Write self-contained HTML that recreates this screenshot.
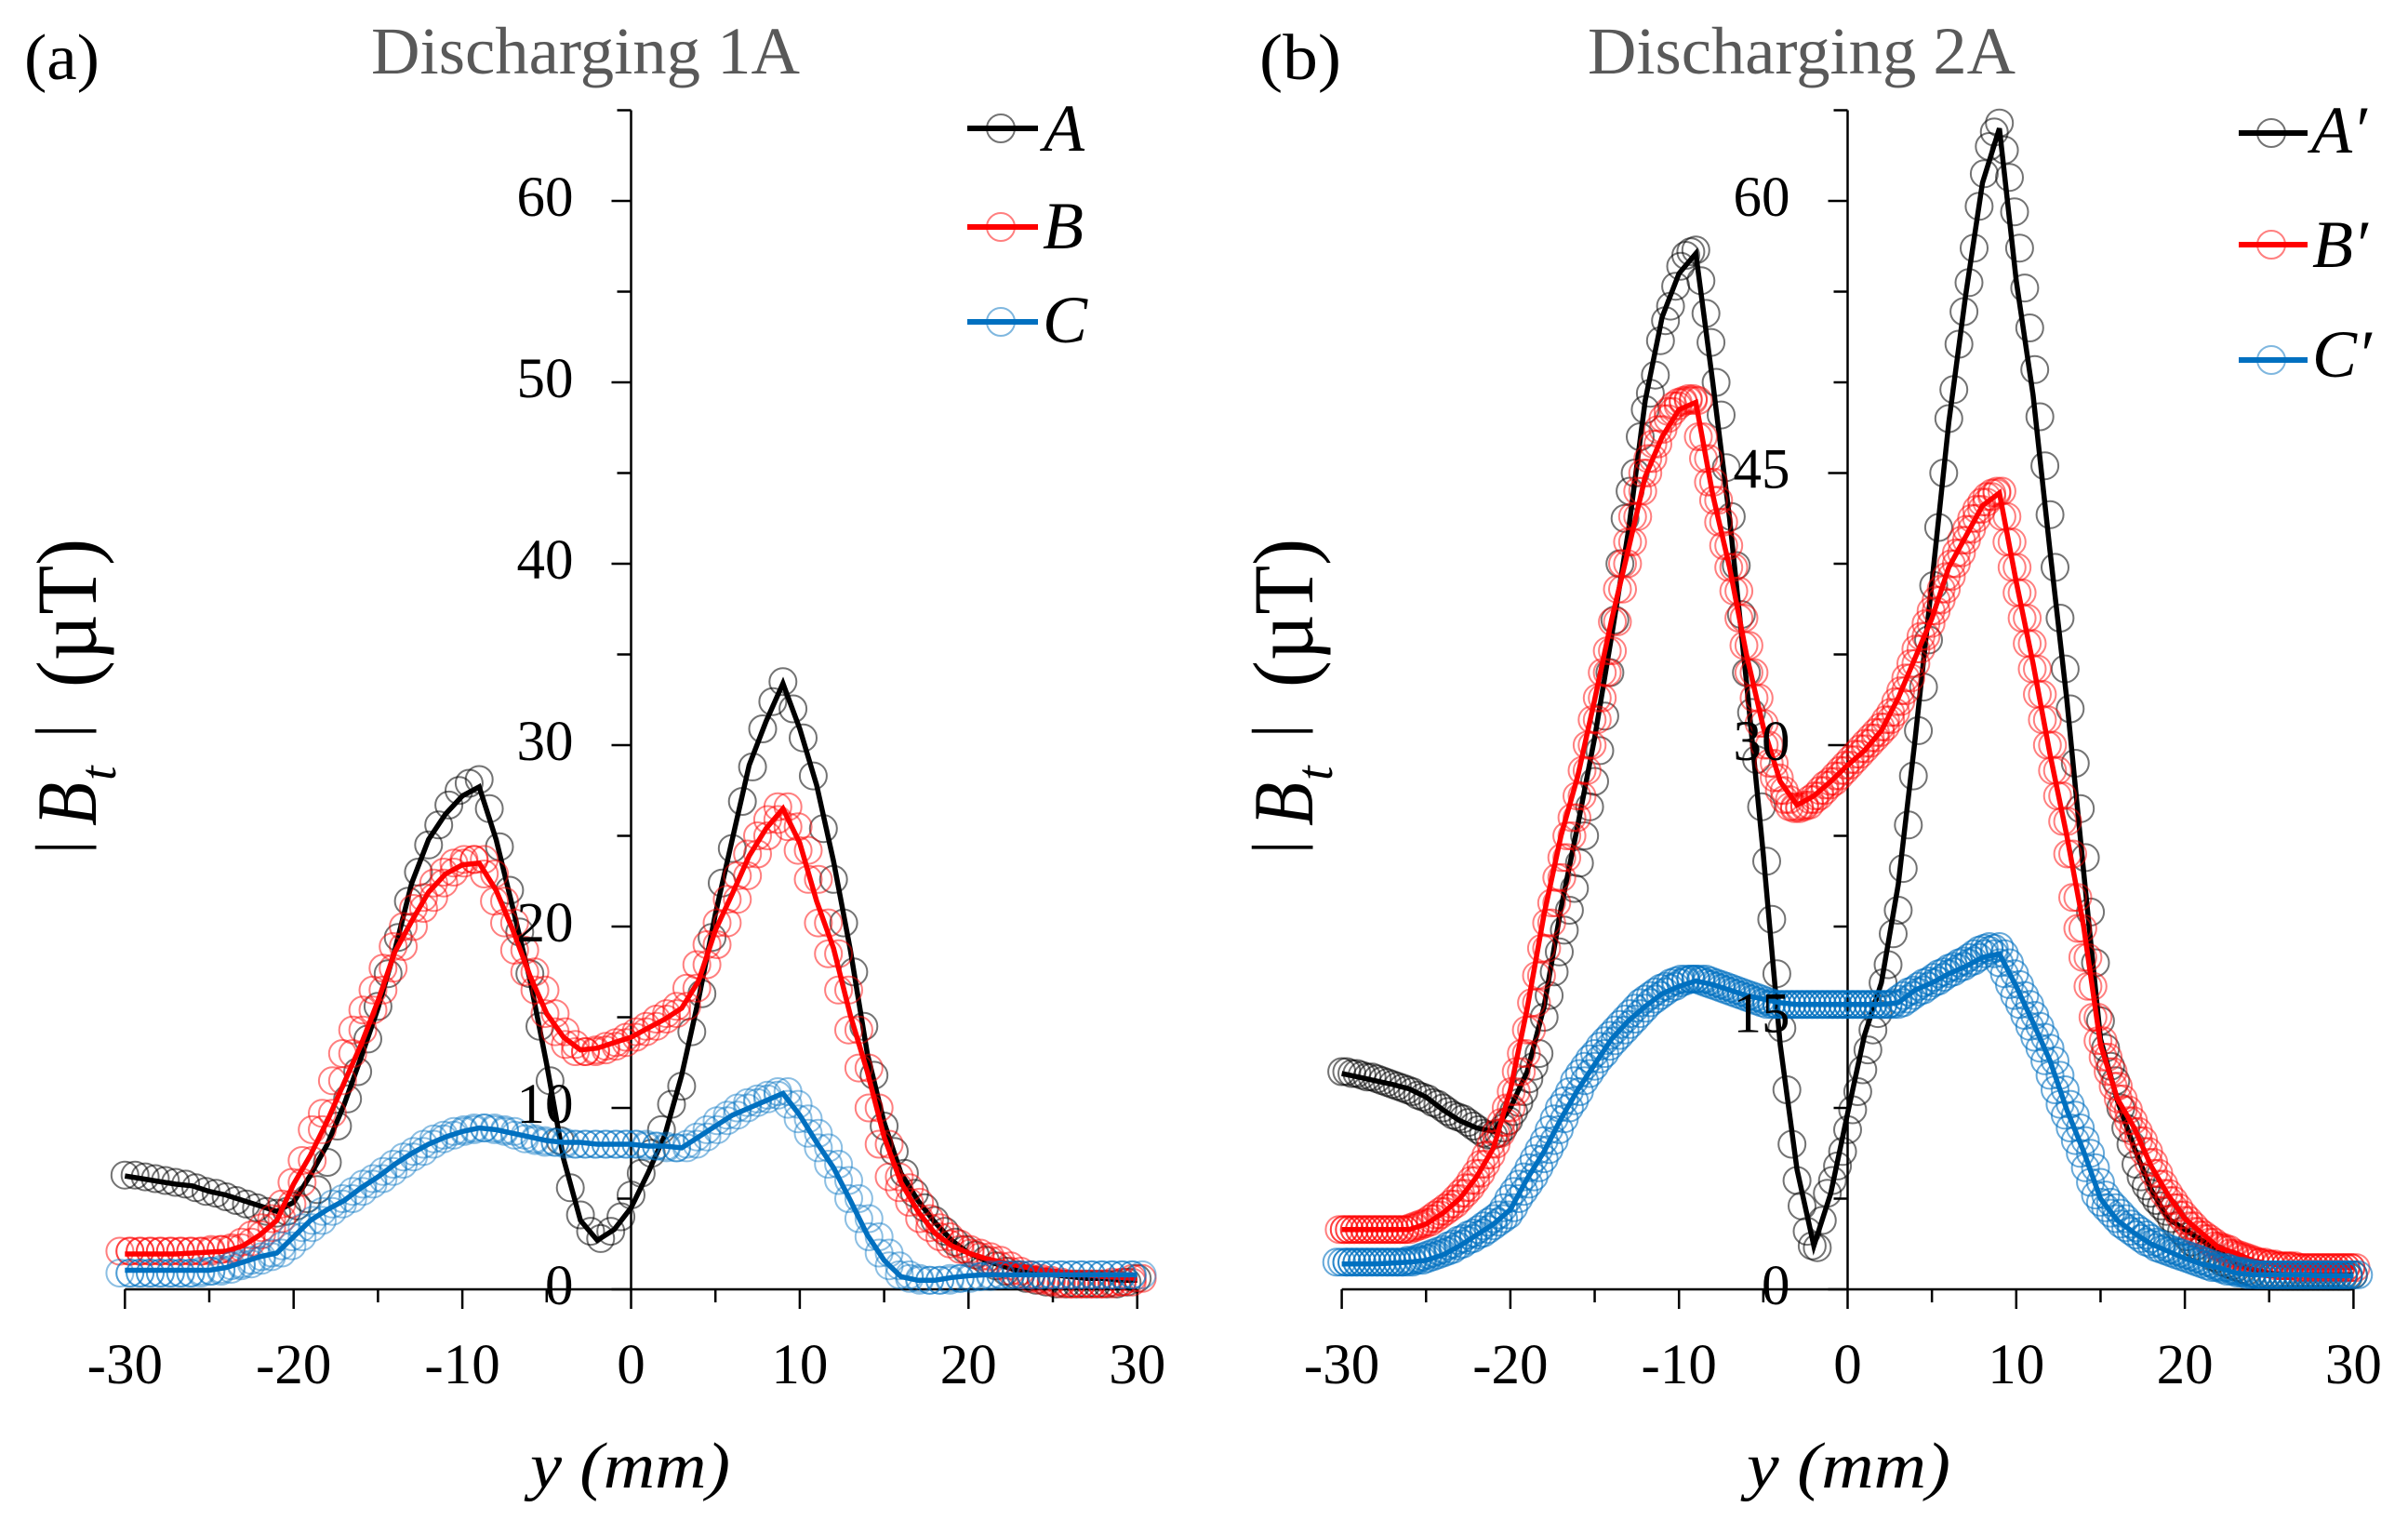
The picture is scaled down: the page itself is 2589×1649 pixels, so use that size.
<!DOCTYPE html>
<html lang="en">
<head>
<meta charset="utf-8">
<title>Discharging magnetic field profiles</title>
<style>
html,body{margin:0;padding:0;background:#fff;}
svg{display:block;}
text{font-family:"Liberation Serif","DejaVu Serif",serif;fill:#000;}
</style>
</head>
<body>
<svg id="fig" xmlns="http://www.w3.org/2000/svg" width="2589" height="1649" viewBox="0 0 2589 1649">
  <rect width="2589" height="1649" fill="#fff"/>
  <g id="panelA"></g>
  <g id="panelB"></g>

  <text x="26" y="85" font-size="70" textLength="81" lengthAdjust="spacingAndGlyphs">(a)</text>
  <text x="1354" y="85" font-size="70" textLength="88" lengthAdjust="spacingAndGlyphs">(b)</text>
  <text x="399" y="79" font-size="72" style="fill:#595959" textLength="461" lengthAdjust="spacingAndGlyphs">Discharging 1A</text>
  <text x="1707" y="79" font-size="72" style="fill:#595959" textLength="460" lengthAdjust="spacingAndGlyphs">Discharging 2A</text>

  <g transform="translate(103,912) rotate(-90)">
    <text x="-6" y="-15" font-size="72">|</text>
    <text x="24" y="0" font-size="92" font-style="italic" textLength="47" lengthAdjust="spacingAndGlyphs">B</text>
    <text x="73" y="21" font-size="56" font-style="italic">t</text>
    <text x="119" y="-15" font-size="72">|</text>
    <text x="173" y="0" font-size="92" textLength="160" lengthAdjust="spacingAndGlyphs">(µT)</text>
  </g>
  <g transform="translate(1411,912) rotate(-90)">
    <text x="-6" y="-15" font-size="72">|</text>
    <text x="24" y="0" font-size="92" font-style="italic" textLength="47" lengthAdjust="spacingAndGlyphs">B</text>
    <text x="73" y="21" font-size="56" font-style="italic">t</text>
    <text x="119" y="-15" font-size="72">|</text>
    <text x="173" y="0" font-size="92" textLength="160" lengthAdjust="spacingAndGlyphs">(µT)</text>
  </g>

  <text x="570" y="1599" font-size="70" font-style="italic" textLength="215" lengthAdjust="spacingAndGlyphs">y (mm)</text>
  <text x="1878" y="1599" font-size="70" font-style="italic" textLength="219" lengthAdjust="spacingAndGlyphs">y (mm)</text>

  <g>
    <g>
      <circle cx="1076" cy="138" r="15" fill="none" stroke="#000" stroke-opacity=".55" stroke-width="2"/>
      <line x1="1040" x2="1116" y1="138" y2="138" stroke="#000" stroke-width="6"/>
      <text x="1122" y="162" font-size="72" font-style="italic">A</text>
    </g>
    <g>
      <circle cx="1076" cy="244" r="15" fill="none" stroke="#ff0000" stroke-opacity=".5" stroke-width="2"/>
      <line x1="1040" x2="1116" y1="244" y2="244" stroke="#ff0000" stroke-width="6"/>
      <text x="1121" y="267" font-size="72" font-style="italic">B</text>
    </g>
    <g>
      <circle cx="1076" cy="346" r="15" fill="none" stroke="#0070c0" stroke-opacity=".5" stroke-width="2"/>
      <line x1="1040" x2="1116" y1="346" y2="346" stroke="#0070c0" stroke-width="6"/>
      <text x="1121" y="368" font-size="72" font-style="italic">C</text>
    </g>
  </g>
  <g>
    <g>
      <circle cx="2442" cy="143" r="15" fill="none" stroke="#000" stroke-opacity=".55" stroke-width="2"/>
      <line x1="2407" x2="2481" y1="143" y2="143" stroke="#000" stroke-width="6"/>
      <text x="2485" y="164" font-size="72" font-style="italic">A′</text>
    </g>
    <g>
      <circle cx="2442" cy="263" r="15" fill="none" stroke="#ff0000" stroke-opacity=".5" stroke-width="2"/>
      <line x1="2407" x2="2481" y1="263" y2="263" stroke="#ff0000" stroke-width="6"/>
      <text x="2486" y="287" font-size="72" font-style="italic">B′</text>
    </g>
    <g>
      <circle cx="2442" cy="387" r="15" fill="none" stroke="#0070c0" stroke-opacity=".5" stroke-width="2"/>
      <line x1="2407" x2="2481" y1="387" y2="387" stroke="#0070c0" stroke-width="6"/>
      <text x="2486" y="405" font-size="72" font-style="italic">C′</text>
    </g>
  </g>
</svg>
<script>
// Axis tick values
const xTickLabels = ["-30","-20","-10","0","10","20","30"];
const xTickValues = [-30,-20,-10,0,10,20,30];
const xMinorValues = [-25,-15,-5,5,15,25];
const yTickLabelsA = ["0","10","20","30","40","50","60"];
const yTickValuesA = [0,10,20,30,40,50,60];
const yMinorValuesA = [5,15,25,35,45,55,65];
const yTickLabelsB = ["0","15","30","45","60"];
const yTickValuesB = [0,15,30,45,60];
const yMinorValuesB = [5,10,20,25,35,40,50,55,65];

// Panel (a): markers sampled every 0.6 mm from -30 mm
const markerStartMm = -30;
const markerStepA = 0.6;
const markersA = [
6.3,6.3,6.2,6.1,6.0,5.9,5.8,5.6,5.4,5.3,
5.1,4.9,4.7,4.5,4.3,4.2,4.3,4.6,5.0,5.5,
7,9,10.5,12,13.8,15.6,17.4,19.4,21.4,23,
24.5,25.6,26.7,27.5,27.9,28.1,26.5,24.4,22,19.7,
17.4,14.5,11.5,8.2,5.6,4.1,3.2,2.8,3.2,4,
5.2,6.4,7.5,8.8,10.2,11.2,14.2,16.3,19.4,22.4,
24.3,26.9,28.8,30.9,32.4,33.5,32,30.4,28.3,25.4,
22.6,20.2,17.5,14.5,11.8,9,7.6,6.4,5.3,4.5,
3.8,3.2,2.6,2.2,1.9,1.6,1.3,1,.8,.6,
.5,.4,.3,.3,.3,.3,.3,.3,.3,.4,
.6];
const markersB = [
2.1,2.1,2.1,2.1,2.1,2.1,2.1,2.1,2.1,2.2,
2.2,2.3,2.6,3,3.4,3.9,4.7,5.9,7.1,8.8,
9.7,11.5,13,14.3,15.4,16.5,17.7,18.9,20,21,
21.6,22.4,23,23.5,23.7,23.7,22.9,21.4,20.2,18.7,
17.5,16.5,15.2,14.2,13.5,13.1,13.1,13.2,13.4,13.6,
13.9,14.2,14.5,14.9,15.2,15.6,16.6,17.9,19,20.2,
21.5,22.8,24,25,25.9,26.6,25.5,24.2,22.6,20.2,
18.5,16.5,14.3,12.2,10,8,6.2,5.6,4.8,3.9,
3.4,2.9,2.5,2.2,2,1.8,1.6,1.3,1,.8,
.6,.5,.4,.3,.3,.3,.3,.3,.4,.4,
.6];
const markersC = [
.9,.9,.9,.9,.9,.9,.9,.9,1,1,
1.1,1.3,1.4,1.6,1.8,2,2.4,2.9,3.4,3.8,
4.3,4.7,5,5.4,5.8,6.1,6.5,6.9,7.3,7.6,
8,8.3,8.5,8.7,8.8,8.9,8.9,8.8,8.7,8.5,
8.3,8.2,8.1,8.1,8,8,8,8,8,8,
8,8,7.9,7.9,7.8,7.8,8,8.4,8.8,9.3,
9.6,10,10.3,10.5,10.7,10.9,10.2,9.4,8.6,7.8,
6.9,6,5,3.9,2.9,2,1.3,.8,.6,.5,
.5,.5,.6,.6,.7,.7,.8,.8,.8,.8,
.8,.8,.8,.8,.8,.8,.8,.8,.8,.8,
.8];

// Panel (a): solid lines sampled every 1 mm from -30 mm
const lineStartMm = -30;
const lineStepMm = 1;
const lineA = [
6.25,6.1,5.95,5.8,5.7,5.4,5.2,4.9,4.6,4.3,
4.8,6.3,8,10.2,12.8,15.5,18.7,22.4,24.8,26.2,
27.2,27.7,24.8,21,17.1,12.4,7.2,3.8,2.7,3.3,
4.5,6.4,8.5,11.8,16,20.7,24.8,28.9,31.3,33.4,
30.9,27.8,23.6,18.7,13,9.2,6.4,4.9,3.7,2.7,
2,1.6,1.3,1,.9,.8,.7,.6,.6,.5,.5];
const lineB = [
1.95,1.95,1.95,1.95,2,2.05,2.1,2.4,3,3.8,
5.8,7.4,9.3,11.4,13.5,15.9,18.6,20.3,21.9,22.9,
23.4,23.5,22,19.8,17.3,15.2,13.9,13.2,13.3,13.6,
13.9,14.4,14.9,15.5,17,19.8,21.8,23.9,25.4,26.5,
24.6,21.4,18.8,15.1,12,8.4,5.9,4.3,3.1,2.4,
2,1.7,1.5,1.3,1.1,1,.9,.8,.7,.65,.6];
const lineC = [
1.05,1.05,1.05,1.05,1.05,1.05,1.2,1.5,1.8,2,
2.9,3.8,4.4,4.9,5.6,6.2,6.9,7.5,8,8.4,
8.7,8.9,8.8,8.6,8.4,8.2,8.1,8.1,8,8,
8,7.9,7.9,7.8,8.4,9,9.6,10,10.4,10.8,
9.6,8.1,6.7,4.9,3,1.6,.7,.5,.5,.65,
.75,.8,.8,.8,.8,.8,.8,.8,.8,.8,.8];

// Panel (b): markers sampled every 0.3 mm from -30 mm
const markerStepB = 0.3;
const markersAPrime = [
12,12,11.9,11.9,11.8,11.7,11.7,11.6,11.5,11.4,
11.3,11.2,11.1,11,10.9,10.7,10.6,10.5,10.3,10.2,
10,9.8,9.6,9.5,9.4,9.2,9,8.8,8.6,8.5,
8.5,8.6,8.9,9.3,9.8,10.3,10.9,11.6,12.3,13,
15,16.2,17.5,18.6,19.8,20.9,22.1,23.5,25,26.6,
28,29.7,31.6,34,36.9,40,42.5,44,45,47,
48.5,49.4,50.4,52.3,53.4,54.2,55.3,56.4,57,57.2,
57.3,55.6,53.8,52.2,50,48.2,45.3,42.6,39.9,37.2,
34,31.8,29.2,26.6,23.6,20.4,17.4,14.4,11,8,
6,4.6,3.2,2.4,2.3,3.8,5.3,6,6.8,7.6,
8.8,9.9,10.9,12.1,13.2,14.3,15.2,16.9,17.9,19.6,
20.9,23.2,25.6,28.3,30.8,33.2,35.8,38.8,42,45,
48,49.6,52.1,53.9,55.5,57.4,59.7,61.5,63,63.8,
64.3,62.8,61.3,59.4,57.4,55.2,53,50.7,48.1,45.4,
42.7,39.8,37,34.2,32,29,26.5,23.8,20.8,18,
14.8,13.3,12.3,11.5,10,8.9,8,6.9,6.2,5.7,
5.3,4.9,4.6,4.3,3.9,3.5,3.2,2.9,2.6,2.4,
2.2,2,1.8,1.7,1.5,1.4,1.3,1.2,1.1,1,
.9,.8,.8,.8,.7,.7,.7,.7,.7,.7,
.7,.7,.7,.7,.7,.7,.7,.7,.7,.7,
.8];
const markersBPrime = [
3.3,3.3,3.3,3.3,3.3,3.3,3.3,3.3,3.3,3.3,
3.3,3.3,3.3,3.3,3.4,3.5,3.6,3.7,3.9,4.1,
4.3,4.5,4.7,5,5.3,5.6,6,6.4,6.9,7.4,
8,8.6,9.2,10,10.9,12,13,14.3,15.8,17.3,
18.8,20.2,21.3,22.7,23.8,25,26,27.2,28.6,30,
31.4,32.6,34,35.2,36.8,38.6,40,41.2,42.6,44,
45,45.8,46.6,47.4,48,48.4,48.7,48.9,49,49.1,
49,47,45.8,44.5,43.5,42.3,41,39.8,38.5,37,
35.5,34,32.6,31.2,30,29,28.2,27.5,27,26.6,
26.5,26.6,26.7,27,27.2,27.5,27.8,28,28.3,28.6,
28.9,29.2,29.5,29.8,30.1,30.4,30.7,31,31.4,31.8,
32.4,33,33.7,34.5,35.3,36,36.7,37.4,38,38.6,
39.3,40,40.6,41.3,41.9,42.5,43,43.4,43.7,43.9,
44,42.6,41.2,39.8,38.4,37,35.6,34.2,32.8,31.4,
30,28.6,27.2,25.8,24,21.6,19.9,18.3,16.7,15,
13.7,12.8,12,11.2,10.5,9.9,9.3,8.7,8.2,7.6,
7,6.4,5.8,5.3,4.9,4.5,4.1,3.8,3.5,3.2,
3,2.8,2.6,2.4,2.3,2.2,2,1.9,1.8,1.7,
1.6,1.5,1.5,1.4,1.4,1.3,1.3,1.3,1.3,1.2,
1.2,1.2,1.2,1.2,1.2,1.2,1.2,1.2,1.2,1.2,
1.2];
const markersCPrime = [
1.5,1.5,1.5,1.5,1.5,1.5,1.5,1.5,1.5,1.5,
1.5,1.5,1.5,1.5,1.6,1.6,1.7,1.8,1.9,2,
2.1,2.2,2.4,2.5,2.7,2.8,3,3.1,3.3,3.5,
3.7,3.9,4.1,4.5,5,5.4,5.8,6.2,6.7,7.2,
7.7,8.2,8.8,9.4,10,10.4,10.9,11.5,11.9,12.3,
12.7,13,13.4,13.7,14,14.3,14.6,14.9,15.2,15.5,
15.8,16,16.2,16.4,16.6,16.7,16.9,17,17.1,17.1,
17.1,17.1,17,16.9,16.8,16.7,16.6,16.5,16.4,16.3,
16.2,16.1,16,15.9,15.8,15.7,15.7,15.7,15.7,15.7,
15.7,15.7,15.7,15.7,15.7,15.7,15.7,15.7,15.7,15.7,
15.7,15.7,15.7,15.7,15.7,15.7,15.7,15.7,15.7,15.7,
15.8,16,16.2,16.4,16.5,16.7,16.9,17,17.2,17.4,
17.5,17.7,17.8,18,18.1,18.3,18.5,18.7,18.8,18.9,
18.5,18,17.4,16.8,16.2,15.7,15.1,14.5,13.9,13.3,
12.6,11.8,11,10.2,9.6,8.9,8.2,7.5,6.7,5.9,
5.2,4.8,4.5,4.2,3.9,3.6,3.4,3.2,3,2.8,
2.6,2.5,2.3,2.2,2.1,2,1.9,1.8,1.7,1.6,
1.5,1.4,1.3,1.2,1.2,1.1,1,1,.9,.9,
.8,.8,.8,.8,.8,.8,.8,.8,.8,.8,
.8,.8,.8,.8,.8,.8,.8,.8,.8,.8,
.8];

// Panel (b): solid lines sampled every 1 mm from -30 mm
const lineAPrime = [
11.9,11.7,11.5,11.3,11.05,10.6,9.9,9.3,8.9,8.7,
10,12,15.6,21,25.6,30.4,36,41.8,49,53.6,
56,57.1,50,42.5,33.5,24,13.5,6.6,2.4,5.3,
9.7,14,16.9,22.3,30.3,39,47.8,54.8,61,64,
55.6,49.3,40.7,32.5,23,13.8,10.4,7.8,5.5,3.9,
3.3,2.7,2.1,1.4,1.1,.9,.8,.8,.8,.8,.8];
const lineBPrime = [
3.3,3.3,3.3,3.3,3.3,3.6,4.2,5,6.2,7.8,
11,15.5,20.7,25,28.3,32.5,36.9,40.8,44.8,47,
48.5,48.9,43.8,39.8,35,31,28,26.7,27.2,28,
28.9,29.7,30.8,32.6,34.8,37,39.8,41.5,43.2,43.9,
39,34.5,29.5,25,20,13.5,10.5,8.9,6.8,5.2,
3.9,3.1,2.3,2,1.6,1.4,1.3,1.2,1.2,1.2,1.2];
const lineCPrime = [
1.4,1.4,1.4,1.45,1.5,1.6,1.9,2.4,3,3.6,
4.4,6.1,7.6,9.4,11,12.4,13.8,14.8,15.6,16.3,
16.7,17,16.8,16.5,16.2,16,15.8,15.7,15.7,15.7,
15.7,15.7,15.7,15.8,16.5,16.9,17.4,17.8,18.3,18.5,
16.7,14.7,12.6,9.9,7.6,5,3.8,3.1,2.5,2.1,
1.7,1.4,1.2,.9,.8,.8,.8,.8,.75,.75,.75];

const SVGNS = "http://www.w3.org/2000/svg";
const BLACK = "#000000", RED = "#ff0000", BLUE = "#0070c0";

function mk(tag, attrs, parent) {
  const el = document.createElementNS(SVGNS, tag);
  for (const k in attrs) el.setAttribute(k, attrs[k]);
  parent.appendChild(el);
  return el;
}

function makeScales(x0, pxPerMm) {
  return {
    x: function (mm) { return x0 + mm * pxPerMm; },
    y: function (v) { return 1386 - v * 19.5; }
  };
}

function drawAxes(root, s, yMajor, yMinor) {
  const axes = mk("g", {stroke: "#000", "stroke-width": 2.5, fill: "none"}, root);
  
  
  const xAxis = mk("line", {x1: s.x(-30), x2: s.x(30), y1: s.y(0), y2: s.y(0)}, axes);
  
  
  const yAxis = mk("line", {x1: s.x(0), x2: s.x(0), y1: s.y(0), y2: s.y(65)}, axes);
  
  
  xTickValues.forEach(function (v) {
    const t = mk("line", {x1: s.x(v), x2: s.x(v), y1: s.y(0), y2: s.y(0) + 21}, axes);
    
    
  });
  xMinorValues.forEach(function (v) {
    const t = mk("line", {x1: s.x(v), x2: s.x(v), y1: s.y(0), y2: s.y(0) + 14}, axes);
    
    
  });
  yMajor.forEach(function (v) {
    const t = mk("line", {x1: s.x(0) - 21, x2: s.x(0), y1: s.y(v), y2: s.y(v)}, axes);
    
    
  });
  yMinor.forEach(function (v) {
    const t = mk("line", {x1: s.x(0) - 15, x2: s.x(0), y1: s.y(v), y2: s.y(v)}, axes);
    
    
  });
}

// chainOffsets: horizontal offsets (mm) of the marker chains drawn for a series
function drawSeries(root, s, seriesName, markers, markerStep, line, color, opacity, chainOffsets) {
  const g = mk("g", {}, root);
  
  
  chainOffsets.forEach(function (offset) {
    markers.forEach(function (v, i) {
      const c = mk("circle", {
        cx: s.x(markerStartMm + i * markerStep + offset).toFixed(1),
        cy: s.y(v).toFixed(1),
        r: 14.5,
        fill: "none",
        stroke: color,
        "stroke-opacity": opacity,
        "stroke-width": 2
      }, g);
      
      
    });
  });
  const pts = line.map(function (v, i) {
    return s.x(lineStartMm + i * lineStepMm).toFixed(1) + "," + s.y(v).toFixed(1);
  }).join(" ");
  const p = mk("polyline", {points: pts, fill: "none", stroke: color, "stroke-width": 5.5, "stroke-linejoin": "miter"}, g);
  
  
}

function drawLabels(root, s, yLabels, yValues) {
  xTickLabels.forEach(function (label, i) {
    const t = mk("text", {x: s.x(xTickValues[i]), y: 1487, "font-size": 61, "text-anchor": "middle"}, root);
    t.textContent = label;
    
    
  });
  yLabels.forEach(function (label, i) {
    const t = mk("text", {x: s.x(0) - 62, y: s.y(yValues[i]) + 16, "font-size": 61, "text-anchor": "end"}, root);
    t.textContent = label;
    
    
  });
}

const panelA = document.getElementById("panelA");
const scaleA = makeScales(678.5, 18.14);
drawAxes(panelA, scaleA, yTickValuesA, yMinorValuesA);
drawSeries(panelA, scaleA, "series-a", markersA, markerStepA, lineA, BLACK, 0.55, [0]);
drawSeries(panelA, scaleA, "series-b", markersB, markerStepA, lineB, RED, 0.5, [-0.3, 0.3]);
drawSeries(panelA, scaleA, "series-c", markersC, markerStepA, lineC, BLUE, 0.45, [-0.3, 0.3]);
drawLabels(panelA, scaleA, yTickLabelsA, yTickValuesA);

const panelB = document.getElementById("panelB");
const scaleB = makeScales(1986.5, 18.13);
drawAxes(panelB, scaleB, yTickValuesB, yMinorValuesB);
drawSeries(panelB, scaleB, "series-a-prime", markersAPrime, markerStepB, lineAPrime, BLACK, 0.55, [0]);
drawSeries(panelB, scaleB, "series-b-prime", markersBPrime, markerStepB, lineBPrime, RED, 0.5, [-0.15, 0.15]);
drawSeries(panelB, scaleB, "series-c-prime", markersCPrime, markerStepB, lineCPrime, BLUE, 0.6, [-0.3, 0.3]);
drawLabels(panelB, scaleB, yTickLabelsB, yTickValuesB);
</script>
</body>
</html>
